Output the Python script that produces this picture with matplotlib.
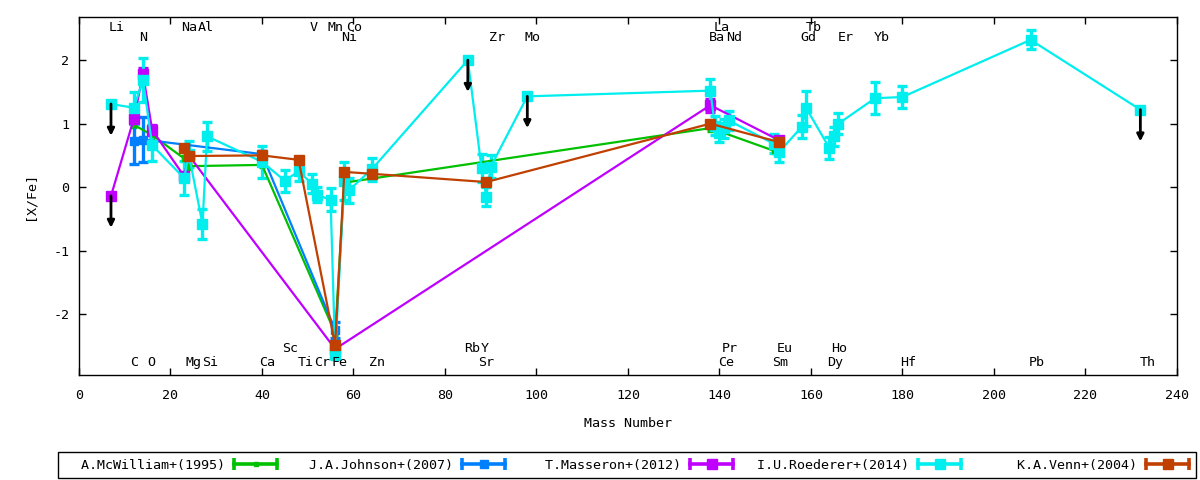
import matplotlib
matplotlib.use('Agg')
import matplotlib.pyplot as plt
from matplotlib.lines import Line2D
from matplotlib.legend_handler import HandlerLine2D
import numpy as np

plt.rcParams['font.family'] = 'DejaVu Sans Mono'
plt.rcParams['font.size'] = 9.6
plt.rcParams['axes.unicode_minus'] = False

# A.McWilliam+(1995)
mcw_x = [12, 16, 23, 24, 40, 56, 58, 138, 152]
mcw_y = [0.98, 0.82, 0.45, 0.33, 0.35, -2.30, 0.07, 0.93, 0.57]
mcw_e = [0.04, 0.04, 0.04, 0.04, 0.04, 0.04, 0.04, 0.04, 0.04]

# J.A.Johnson+(2007)
jhn_x = [12, 14, 40, 56]
jhn_y = [0.72, 0.75, 0.52, -2.25]
jhn_e = [0.35, 0.35, 0.05, 0.12]

# T.Masseron+(2012)
mas_x = [7, 12, 14, 16, 23, 24, 56, 138, 153]
mas_y = [-0.14, 1.08, 1.78, 0.90, 0.17, 0.50, -2.55, 1.29, 0.74]
mas_e = [0, 0.08, 0.10, 0.08, 0.05, 0.05, 0.05, 0.10, 0.05]
mas_ul = [7]

# I.U.Roederer+(2014)
rod_x = [7, 12, 14, 16, 23, 24, 27, 28, 40, 45, 48, 51, 52, 55, 56, 58, 59, 64,
         85, 88, 89, 90, 98, 138, 139, 140, 141, 142, 152, 153, 158, 159, 164,
         165, 166, 174, 180, 208, 232]
rod_y = [1.31, 1.25, 1.69, 0.66, 0.14, 0.52, -0.58, 0.80, 0.40, 0.10, 0.25, 0.05,
         -0.12, -0.20, -2.63, 0.10, -0.05, 0.28, 2.00, 0.30, -0.15, 0.32, 1.43,
         1.52, 0.97, 0.86, 0.93, 1.05, 0.68, 0.55, 0.95, 1.24, 0.62, 0.80, 1.00,
         1.40, 1.42, 2.32, 1.22]
rod_e = [0, 0.25, 0.35, 0.25, 0.27, 0.20, 0.23, 0.23, 0.25, 0.17, 0.15, 0.15,
         0.12, 0.18, 0.08, 0.30, 0.20, 0.18, 0, 0.22, 0.15, 0.18, 0, 0.18, 0.15,
         0.15, 0.15, 0.15, 0.15, 0.15, 0.18, 0.28, 0.17, 0.15, 0.17, 0.25, 0.18,
         0.15, 0]
rod_ul = [7, 85, 98, 232]

# K.A.Venn+(2004)
ven_x = [23, 24, 40, 48, 56, 58, 64, 89, 138, 153]
ven_y = [0.61, 0.49, 0.50, 0.43, -2.49, 0.24, 0.21, 0.08, 1.00, 0.71]
ven_e = [0, 0, 0, 0, 0, 0, 0, 0, 0, 0]

# element labels (four rows)
row1_el = ['Li', 'Na', 'Al', 'V', 'Mn', 'Co', 'La', 'Tb']
row1_x = [6.5, 22.3, 26.0, 50.4, 54.4, 58.4, 138.8, 158.9]
row2_el = ['N', 'Ni', 'Zr', 'Mo', 'Ba', 'Nd', 'Gd', 'Er', 'Yb']
row2_x = [13.2, 57.4, 89.6, 97.4, 137.7, 141.4, 157.7, 165.9, 173.7]
row3_el = ['Sc', 'Rb', 'Y', 'Pr', 'Eu', 'Ho']
row3_x = [44.4, 84.2, 87.9, 140.5, 152.6, 164.4]
row4_el = ['C', 'O', 'Mg', 'Si', 'Ca', 'Ti', 'Cr', 'Fe', 'Zn', 'Sr', 'Ce',
           'Sm', 'Dy', 'Hf', 'Pb', 'Th']
row4_x = [11.1, 14.9, 23.3, 26.9, 39.4, 47.8, 51.5, 55.2, 63.5, 87.3, 139.6,
          151.5, 163.5, 179.5, 207.5, 231.8]
row_y = [2.52, 2.36, -2.55, -2.77]

fig = plt.figure(figsize=(12, 4.8), dpi=100)
ax = fig.add_axes([0.0658, 0.21875, 0.9150, 0.7458])

series = [
    ('A.McWilliam+(1995)', mcw_x, mcw_y, mcw_e, [], '#00c000', 2.5, 2.5),
    ('J.A.Johnson+(2007)', jhn_x, jhn_y, jhn_e, [], '#0080ff', 5.5, 3.5),
    ('T.Masseron+(2012)', mas_x, mas_y, mas_e, mas_ul, '#c000ff', 7, 3.5),
    ('I.U.Roederer+(2014)', rod_x, rod_y, rod_e, rod_ul, '#00eeee', 7.5, 3.6),
    ('K.A.Venn+(2004)', ven_x, ven_y, ven_e, [], '#c04000', 7.7, 3.0),
]

handles, labels, hmap = [], [], {}
for name, xs, ys, es, ul, col, ms, cs in series:
    ax.errorbar(xs, ys, yerr=es, fmt='-s', color=col, lw=1.6, ms=ms,
                elinewidth=2.4, capsize=cs, capthick=2.4)
    for x, y in zip(xs, ys):
        if x in ul:
            ax.annotate('', xy=(x, y - 0.5), xytext=(x, y),
                        arrowprops=dict(arrowstyle='-|>', color='black', lw=2,
                                        mutation_scale=10, shrinkA=0, shrinkB=0))
    caps = Line2D([], [], color=col, lw=2.6, marker='|', ms=9, mew=2.6)
    mid = Line2D([], [], color=col, ls='none', marker='s', ms=min(ms, 6.5))
    hmap[caps] = HandlerLine2D(numpoints=2, marker_pad=0)
    handles.append((caps, mid))
    labels.append(name.rjust(20))

for els, xs, y in zip([row1_el, row2_el, row3_el, row4_el],
                      [row1_x, row2_x, row3_x, row4_x], row_y):
    for el, x in zip(els, xs):
        ax.text(x, y, el, ha='left', va='center', color='black')

ax.set_xlim(0, 240)
ax.set_ylim(-2.96, 2.68)
ax.set_xticks(np.arange(0, 241, 20))
ax.set_yticks([-2, -1, 0, 1, 2])
ax.tick_params(direction='in', top=True, right=True, length=5, width=1)
ax.tick_params(axis='x', pad=10)
ax.tick_params(axis='y', pad=7)
for s in ax.spines.values():
    s.set_linewidth(1.0)

ax.set_xlabel('Mass Number')
ax.xaxis.set_label_coords(0.5, -0.118)
ax.set_ylabel('[X/Fe]')
ax.yaxis.set_label_coords(-0.039, 0.5)

leg = fig.legend(handles, labels, loc='center', bbox_to_anchor=(0.5225, 0.03125),
                 ncol=5, markerfirst=False, frameon=True, fancybox=False,
                 edgecolor='black', framealpha=1, handlelength=3.2,
                 handletextpad=0.7, columnspacing=1.2, borderpad=0.5,
                 handler_map=hmap)
leg.get_frame().set_linewidth(1.0)

fig.savefig('out.png', dpi=100)
